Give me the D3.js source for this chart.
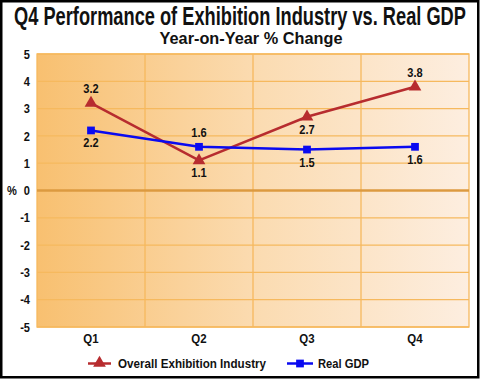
<!DOCTYPE html>
<html><head><meta charset="utf-8">
<script src="https://cdn.jsdelivr.net/npm/d3@7"></script>
<style>
html,body{margin:0;padding:0;background:#fff;}
svg{display:block;}
text{font-family:"Liberation Sans",Arial,Helvetica,sans-serif;font-weight:bold;fill:#111;}
</style></head>
<body><svg id="c" width="480" height="379"></svg>
<script>
const categories = ["Q1","Q2","Q3","Q4"];
const exhibition = [3.2, 1.1, 2.7, 3.8];
const gdp = [2.2, 1.6, 1.5, 1.6];
const yTicks = [5,4,3,2,1,0,-1,-2,-3,-4,-5];
const exhibitionLabelPos = ["above","below","below","above"];
const gdpLabelPos = ["below","above","below","below"];
const seriesNames = ["Overall Exhibition Industry","Real GDP"];
const titleText = "Q4 Performance of Exhibition Industry vs. Real GDP";
const subtitleText = "Year-on-Year % Change";

const svg = d3.select("#c");
const W = 480, H = 379;
const m = {left:37, right:11, top:54, bottom:52};
const x = d3.scaleBand().domain(categories).range([m.left, W-m.right]).padding(0);
const y = d3.scaleLinear().domain([-5,5]).range([H-m.bottom, m.top]);

const defs = svg.append("defs");
const g = defs.append("linearGradient").attr("id","bg").attr("x1","0").attr("x2","1").attr("y1","0").attr("y2","0");
g.append("stop").attr("offset","0").attr("stop-color","#f8c070");
g.append("stop").attr("offset","0.5").attr("stop-color","#fbdbb0");
g.append("stop").attr("offset","1").attr("stop-color","#fdeee0");

// outer border
svg.append("rect").attr("x",1.25).attr("y",1.25).attr("width",W-3).attr("height",H-3)
  .attr("fill","#fff").attr("stroke","#000").attr("stroke-width",2.5);

// plot background
svg.append("rect").attr("x",m.left).attr("y",m.top).attr("width",W-m.right-m.left).attr("height",H-m.bottom-m.top)
  .attr("fill","url(#bg)");

const gridColor = "#f6b95e";
svg.append("g").selectAll("line").data(yTicks.filter(d=>d!==0)).join("line")
  .attr("x1",m.left).attr("x2",W-m.right).attr("y1",d=>y(d)).attr("y2",d=>y(d))
  .attr("stroke",gridColor).attr("stroke-width",1.3);
svg.append("g").selectAll("line").data(categories.slice(1)).join("line")
  .attr("x1",d=>x(d)).attr("x2",d=>x(d)).attr("y1",m.top).attr("y2",H-m.bottom)
  .attr("stroke",gridColor).attr("stroke-width",1.3);
svg.append("rect").attr("x",m.left).attr("y",m.top).attr("width",W-m.right-m.left).attr("height",H-m.bottom-m.top)
  .attr("fill","none").attr("stroke",gridColor).attr("stroke-width",1.3);
svg.append("line").attr("x1",m.left).attr("x2",W-m.right).attr("y1",y(0)).attr("y2",y(0))
  .attr("stroke","#dc9a40").attr("stroke-width",2.5);

// y axis labels
const yAxis = d3.axisLeft(y).tickValues(yTicks).tickSize(0).tickPadding(7).tickFormat(d=>String(d));
const ya = svg.append("g").attr("transform",`translate(${m.left},0)`).call(yAxis);
ya.select(".domain").remove();
ya.selectAll("text").attr("class","cond").style("font-size","13px").style("font-family",null).attr("fill","#111");
svg.append("text").attr("class","cond").attr("x",12).attr("y",y(0)).attr("dy","0.32em").attr("text-anchor","middle")
  .style("font-size","13px").text("%");

// x axis labels
const xAxis = d3.axisBottom(x).tickSize(0).tickPadding(6);
const xa = svg.append("g").attr("transform",`translate(0,${H-m.bottom})`).call(xAxis);
xa.select(".domain").remove();
xa.selectAll("text").attr("class","cond").style("font-size","13.5px").style("font-family",null).attr("fill","#111");

const cx = d => x(d) + x.bandwidth()/2;
const line = d3.line().x((d,i)=>cx(categories[i])).y(d=>y(d));

const red = "#b72c2f", blue = "#0a0af0";
svg.append("path").datum(exhibition).attr("d",line).attr("fill","none").attr("stroke",red).attr("stroke-width",2.5);
svg.append("path").datum(gdp).attr("d",line).attr("fill","none").attr("stroke",blue).attr("stroke-width",2.5);

const tri = d3.symbol().type(d3.symbolTriangle).size(70);
const sq = d3.symbol().type(d3.symbolSquare).size(60);
svg.append("g").selectAll("path").data(exhibition).join("path")
  .attr("d",tri).attr("fill",red)
  .attr("transform",(d,i)=>`translate(${cx(categories[i])},${y(d)})`);
svg.append("g").selectAll("path").data(gdp).join("path")
  .attr("d",sq).attr("fill",blue)
  .attr("transform",(d,i)=>`translate(${cx(categories[i])},${y(d)})`);

function labels(data,pos){
  svg.append("g").selectAll("text").data(data).join("text").attr("class","cond")
    .attr("x",(d,i)=>cx(categories[i]))
    .attr("y",(d,i)=>y(d) + (pos[i]==="above" ? -10 : 17))
    .attr("text-anchor","middle").style("font-size","13px")
    .text(d=>d3.format(".1f")(d));
}
labels(exhibition,exhibitionLabelPos);
labels(gdp,gdpLabelPos);

// titles (horizontally condensed via scale transform)
function condensedText(cxp, base, size, width, txt){
  const gg = svg.append("g");
  const t = gg.append("text").attr("text-anchor","middle").style("font-size",size+"px").text(txt);
  const w = t.node().getComputedTextLength();
  gg.attr("transform",`translate(${cxp},${base}) scale(${width/w},1)`);
  return t;
}
condensedText(240, 25, 25, 452, titleText);
condensedText(251, 44, 16, 183, subtitleText);

// legend
const ly = 364;
const lg = svg.append("g");
lg.append("line").attr("x1",88).attr("x2",111).attr("y1",ly-0.5).attr("y2",ly-0.5).attr("stroke",red).attr("stroke-width",2.5);
lg.append("path").attr("d",tri).attr("fill",red).attr("transform",`translate(99.5,${ly-1})`);
lg.append("text").attr("x",118).attr("y",ly+4).style("font-size","13px")
  .attr("textLength",148).attr("lengthAdjust","spacingAndGlyphs").text(seriesNames[0]);
lg.append("line").attr("x1",287).attr("x2",313).attr("y1",ly-0.5).attr("y2",ly-0.5).attr("stroke",blue).attr("stroke-width",2.5);
lg.append("path").attr("d",sq).attr("fill",blue).attr("transform",`translate(300,${ly-0.5})`);
lg.append("text").attr("x",318).attr("y",ly+4).style("font-size","13px")
  .attr("textLength",51).attr("lengthAdjust","spacingAndGlyphs").text(seriesNames[1]);

// condense short texts
svg.selectAll("text.cond").each(function(){
  const w = this.getComputedTextLength();
  d3.select(this).attr("textLength", w*0.85).attr("lengthAdjust","spacingAndGlyphs");
});
</script></body></html>
